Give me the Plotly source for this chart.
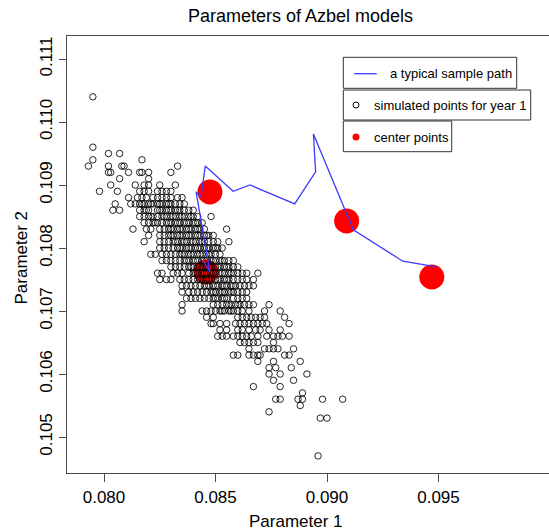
import plotly.graph_objects as go

# ---- data -------------------------------------------------------------
# simulated parameter pairs for year 1, grouped by Parameter 2 level
sim_y_levels = [
    0.1104, 0.1096, 0.1095, 0.1094, 0.1093, 0.1092, 0.1091, 0.1090, 0.1089,
    0.1088, 0.1087, 0.1086, 0.1085, 0.1084, 0.1083, 0.1082, 0.1081, 0.1080,
    0.1079, 0.1078, 0.1077, 0.1076, 0.1075, 0.1074, 0.1073, 0.1072, 0.1071,
    0.1070, 0.1069, 0.1068, 0.1067, 0.1066, 0.1065, 0.1064, 0.1063, 0.1062,
    0.1061, 0.1060, 0.1059, 0.1058, 0.1057, 0.1056, 0.1055, 0.1054, 0.1053,
    0.1047,
]
sim_x_by_level = [
    [0.0795],
    [0.0795],
    [0.0802, 0.0807],
    [0.0795, 0.0817],
    [0.0793, 0.0802, 0.0808, 0.0809, 0.0833],
    [0.0802, 0.0803, 0.0811, 0.0816, 0.0817, 0.0820, 0.0830],
    [0.0807, 0.0820],
    [0.0803, 0.0814, 0.0818, 0.0820, 0.0825, 0.0832],
    [0.0798, 0.0806, 0.0816, 0.0818, 0.0820, 0.0824, 0.0826, 0.0828, 0.0830],
    [0.0811, 0.0815, 0.0817, 0.0819, 0.0822, 0.0824, 0.0826, 0.0828, 0.0830,
     0.0833, 0.0835],
    [0.0805, 0.0812, 0.0814, 0.0816, 0.0817, 0.0818, 0.0820, 0.0821, 0.0822,
     0.0824, 0.0825, 0.0826, 0.0828, 0.0829, 0.0830, 0.0832, 0.0834, 0.0836],
    [0.0804, 0.0807, 0.0816, 0.0818, 0.0819, 0.0820, 0.0824, 0.0825, 0.0826,
     0.0828, 0.0829, 0.0830, 0.0832, 0.0833, 0.0834, 0.0836, 0.0838, 0.0840],
    [0.0816, 0.0818, 0.0820, 0.0821, 0.0822, 0.0824, 0.0826, 0.0827, 0.0828,
     0.0830, 0.0831, 0.0832, 0.0834, 0.0835, 0.0836, 0.0838, 0.0839, 0.0840,
     0.0842, 0.0848],
    [0.0818, 0.0820, 0.0822, 0.0823, 0.0824, 0.0826, 0.0828, 0.0829, 0.0830,
     0.0832, 0.0833, 0.0834, 0.0836, 0.0837, 0.0838, 0.0840, 0.0841, 0.0842,
     0.0844],
    [0.0813, 0.0819, 0.0821, 0.0825, 0.0827, 0.0829, 0.0830, 0.0831, 0.0833,
     0.0834, 0.0835, 0.0837, 0.0838, 0.0839, 0.0841, 0.0842, 0.0843, 0.0845,
     0.0855],
    [0.0820, 0.0825, 0.0827, 0.0829, 0.0830, 0.0831, 0.0833, 0.0834, 0.0835,
     0.0837, 0.0838, 0.0839, 0.0841, 0.0842, 0.0843, 0.0845, 0.0846, 0.0847,
     0.0849],
    [0.0818, 0.0825, 0.0827, 0.0829, 0.0831, 0.0832, 0.0833, 0.0835, 0.0836,
     0.0837, 0.0839, 0.0840, 0.0841, 0.0843, 0.0844, 0.0845, 0.0847, 0.0849,
     0.0851, 0.0856],
    [0.0825, 0.0827, 0.0829, 0.0831, 0.0833, 0.0834, 0.0835, 0.0837, 0.0838,
     0.0839, 0.0841, 0.0842, 0.0843, 0.0845, 0.0846, 0.0847, 0.0849, 0.0850,
     0.0851, 0.0853],
    [0.0821, 0.0823, 0.0826, 0.0828, 0.0830, 0.0832, 0.0834, 0.0835, 0.0836,
     0.0838, 0.0839, 0.0840, 0.0842, 0.0843, 0.0844, 0.0846, 0.0847, 0.0848,
     0.0850, 0.0852],
    [0.0826, 0.0828, 0.0830, 0.0832, 0.0834, 0.0836, 0.0837, 0.0838, 0.0840,
     0.0841, 0.0842, 0.0844, 0.0845, 0.0846, 0.0848, 0.0849, 0.0850, 0.0852,
     0.0853, 0.0854, 0.0856, 0.0858],
    [0.0830, 0.0832, 0.0834, 0.0836, 0.0838, 0.0839, 0.0840, 0.0842, 0.0843,
     0.0844, 0.0846, 0.0847, 0.0848, 0.0850, 0.0851, 0.0852, 0.0854, 0.0855,
     0.0856, 0.0858, 0.0860],
    [0.0824, 0.0826, 0.0831, 0.0833, 0.0835, 0.0838, 0.0840, 0.0841, 0.0842,
     0.0844, 0.0845, 0.0846, 0.0848, 0.0849, 0.0850, 0.0852, 0.0853, 0.0854,
     0.0856, 0.0857, 0.0858, 0.0860, 0.0862, 0.0864, 0.0869],
    [0.0825, 0.0828, 0.0830, 0.0834, 0.0836, 0.0838, 0.0840, 0.0842, 0.0843,
     0.0844, 0.0846, 0.0847, 0.0848, 0.0850, 0.0851, 0.0852, 0.0854, 0.0855,
     0.0856, 0.0858, 0.0860, 0.0862, 0.0864, 0.0867],
    [0.0835, 0.0837, 0.0839, 0.0841, 0.0843, 0.0845, 0.0846, 0.0847, 0.0849,
     0.0850, 0.0851, 0.0853, 0.0854, 0.0855, 0.0857, 0.0858, 0.0859, 0.0861,
     0.0863, 0.0865, 0.0867],
    [0.0835, 0.0838, 0.0840, 0.0842, 0.0844, 0.0846, 0.0848, 0.0849, 0.0850,
     0.0852, 0.0853, 0.0854, 0.0856, 0.0857, 0.0858, 0.0860, 0.0862, 0.0864],
    [0.0837, 0.0839, 0.0841, 0.0843, 0.0845, 0.0847, 0.0849, 0.0850, 0.0851,
     0.0853, 0.0854, 0.0855, 0.0858, 0.0860, 0.0862, 0.0864],
    [0.0835, 0.0849, 0.0851, 0.0853, 0.0855, 0.0856, 0.0857, 0.0859, 0.0860,
     0.0861, 0.0863, 0.0865, 0.0867, 0.0874],
    [0.0835, 0.0844, 0.0846, 0.0848, 0.0850, 0.0852, 0.0853, 0.0854, 0.0856,
     0.0857, 0.0858, 0.0860, 0.0862, 0.0865, 0.0872, 0.0879],
    [0.0846, 0.0849, 0.0860, 0.0862, 0.0864, 0.0866, 0.0868, 0.0870, 0.0872,
     0.0881],
    [0.0848, 0.0849, 0.0852, 0.0855, 0.0859, 0.0861, 0.0863, 0.0865, 0.0867,
     0.0869, 0.0871, 0.0873, 0.0883],
    [0.0852, 0.0855, 0.0860, 0.0862, 0.0865, 0.0868, 0.0870, 0.0874, 0.0879],
    [0.0851, 0.0853, 0.0855, 0.0858, 0.0860, 0.0862, 0.0864, 0.0866, 0.0869,
     0.0873, 0.0876, 0.0878, 0.0880, 0.0883],
    [0.0861, 0.0863, 0.0865, 0.0867, 0.0869, 0.0876],
    [0.0865, 0.0872, 0.0874, 0.0876, 0.0878, 0.0885],
    [0.0858, 0.0860, 0.0865, 0.0867, 0.0869, 0.0870, 0.0881, 0.0883],
    [0.0869, 0.0876, 0.0888],
    [0.0874, 0.0877, 0.0884],
    [0.0874, 0.0879, 0.0891],
    [0.0876, 0.0885],
    [0.0867, 0.0879],
    [0.0889],
    [0.0877, 0.0879, 0.0887, 0.0889, 0.0898, 0.0907],
    [0.0888],
    [0.0874],
    [0.0897, 0.0900],
    [0.0896],
]

# one typical sample path through the parameter space
path_p1 = [0.08443, 0.08475, 0.08413, 0.08435, 0.08454, 0.08579, 0.08655,
           0.08855, 0.08949, 0.08939, 0.09118, 0.09340, 0.09492]
path_p2 = [0.10781, 0.10762, 0.10889, 0.10881, 0.10930, 0.10890, 0.10900,
           0.10870, 0.10921, 0.10981, 0.10829, 0.10779, 0.10770]

# center points of the simulated clouds
center_p1 = [0.08475, 0.08457, 0.09088, 0.09470]
center_p2 = [0.10889, 0.10762, 0.10843, 0.10754]

x_ticks = [0.080, 0.085, 0.090, 0.095]
y_ticks = [0.105, 0.106, 0.107, 0.108, 0.109, 0.110, 0.111]

legend_labels = ["a typical sample path", "simulated points for year 1",
                 "center points"]

# ---- flatten the simulated cloud --------------------------------------
sim_x, sim_y = [], []
for lvl, xs in zip(sim_y_levels, sim_x_by_level):
    sim_x.extend(xs)
    sim_y.extend([lvl] * len(xs))

# ---- geometry ---------------------------------------------------------
W, H = 549, 530
L, T, B = 67, 36, 473          # plot area edges (px); right edge at W
FONT = "Liberation Sans, Arial, Helvetica, sans-serif"
AXIS_COL = "#4a4a4a"


def px_x(px):
    return (px - L) / (W - L)


def px_y(py):
    return (B - py) / (B - T)


fig = go.Figure()

fig.add_trace(go.Scatter(
    x=center_p1, y=center_p2, mode="markers",
    marker=dict(symbol="circle", size=25, color="#ff0000", line=dict(width=0)),
    showlegend=False, hoverinfo="skip"))

fig.add_trace(go.Scatter(
    x=sim_x, y=sim_y, mode="markers",
    marker=dict(symbol="circle-open", size=6.5, color="rgba(0,0,0,0.85)",
                line=dict(width=1)),
    showlegend=False, hoverinfo="skip"))

fig.add_trace(go.Scatter(
    x=path_p1, y=path_p2, mode="lines",
    line=dict(color="#3b3bff", width=1.3),
    showlegend=False, hoverinfo="skip"))

# ---- legend boxes (three separately framed entries) -------------------
shapes = []
annotations = []
boxes = [
    (343.3, 516.7, 57.3, 88.3, 388.3, 73.7),
    (343.3, 530.7, 90.0, 120.0, 371.7, 105.0),
    (343.3, 451.7, 121.0, 151.7, 371.7, 137.0),
]
for (x0, x1, y0, y1, tx, ty), label in zip(boxes, legend_labels):
    shapes.append(dict(type="rect", xref="paper", yref="paper",
                       x0=px_x(x0), x1=px_x(x1), y0=px_y(y1), y1=px_y(y0),
                       line=dict(color="#333333", width=1),
                       fillcolor="white", layer="above"))
    annotations.append(dict(text=label, xref="paper", yref="paper",
                            x=px_x(tx), y=px_y(ty), xanchor="left",
                            yanchor="middle", showarrow=False,
                            font=dict(family=FONT, size=13, color="black")))

shapes.append(dict(type="line", xref="paper", yref="paper",
                   x0=px_x(354), x1=px_x(376.7), y0=px_y(73.7), y1=px_y(73.7),
                   line=dict(color="#3b3bff", width=1.3), layer="above"))
shapes.append(dict(type="circle", xref="paper", yref="paper",
                   x0=px_x(353), x1=px_x(359), y0=px_y(108), y1=px_y(102),
                   line=dict(color="black", width=1), layer="above"))
shapes.append(dict(type="circle", xref="paper", yref="paper",
                   x0=px_x(352.5), x1=px_x(359.5), y0=px_y(140.5),
                   y1=px_y(133.5), fillcolor="#ff0000",
                   line=dict(color="#ff0000", width=0), layer="above"))

# ---- titles -----------------------------------------------------------
annotations.append(dict(text="Parameters of Azbel models", xref="paper",
                        yref="paper", x=px_x(300), y=px_y(16),
                        xanchor="center", yanchor="middle", showarrow=False,
                        font=dict(family=FONT, size=18, color="black")))
annotations.append(dict(text="Parameter 1", xref="paper", yref="paper",
                        x=px_x(296), y=px_y(521.5), xanchor="center",
                        yanchor="middle", showarrow=False,
                        font=dict(family=FONT, size=17, color="black")))
annotations.append(dict(text="Parameter 2", xref="paper", yref="paper",
                        x=px_x(20.5), y=px_y(258), xanchor="center",
                        yanchor="middle", showarrow=False, textangle=-90,
                        font=dict(family=FONT, size=17, color="black")))

fig.update_layout(
    width=W, height=H,
    margin=dict(l=L, r=0, t=T, b=H - B, pad=0),
    paper_bgcolor="white", plot_bgcolor="white",
    shapes=shapes, annotations=annotations,
    showlegend=False,
    font=dict(family=FONT, size=17, color="black"),
)

fig.update_xaxes(
    range=[0.080 - 37 / 22300, 0.080 + 482 / 22300 - 37 / 22300],
    tickvals=x_ticks, ticktext=[f"{v:.3f}" for v in x_ticks],
    ticks="outside", ticklen=8, tickwidth=1.2, tickcolor=AXIS_COL,
    showline=True, linecolor=AXIS_COL, linewidth=1.3, mirror=True,
    showgrid=False, zeroline=False,
    tickfont=dict(family=FONT, size=17, color="black"),
)
fig.update_yaxes(
    range=[0.105 - 36 / 63000, 0.105 + 401 / 63000],
    tickvals=y_ticks, ticktext=[f"{v:.3f}" for v in y_ticks],
    ticks="outside", ticklen=7, tickwidth=1.2, tickcolor=AXIS_COL,
    tickangle=-90,
    showline=True, linecolor=AXIS_COL, linewidth=1.3, mirror=False,
    showgrid=False, zeroline=False,
    tickfont=dict(family=FONT, size=17, color="black"),
)

fig.write_html("out.html")
